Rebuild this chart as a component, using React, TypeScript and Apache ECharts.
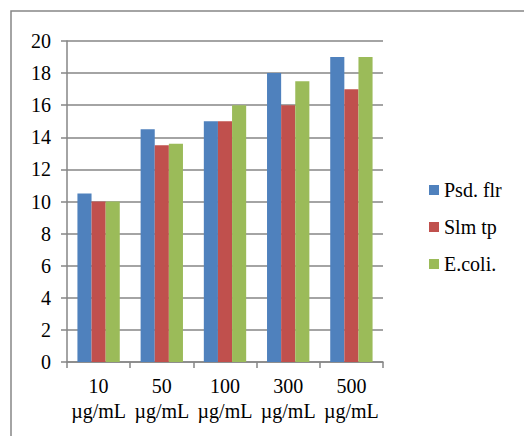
import React, { useEffect, useRef } from "react";
import * as echarts from "echarts";

const categories = ["10\nµg/mL", "50\nµg/mL", "100\nµg/mL", "300\nµg/mL", "500\nµg/mL"];
const seriesNames = ["Psd. flr", "Slm tp", "E.coli."];
const psdFlr = [10.5, 14.5, 15, 18, 19];
const slmTp = [10, 13.5, 15, 16, 17];
const eColi = [10, 13.6, 16, 17.5, 19];
const colors = ["#4F81BD", "#C0504D", "#9BBB59"];

const FONT = "Liberation Serif, Times New Roman, serif";
const FS = 20;

export default function App() {
  const ref = useRef<HTMLDivElement>(null);
  useEffect(() => {
    if (!ref.current) return;
    const chart = echarts.init(ref.current, null, { renderer: "svg" });
    const values = [psdFlr, slmTp, eColi];
    chart.setOption({
      animation: false,
      backgroundColor: "#ffffff",
      textStyle: { fontFamily: FONT, color: "#000" },
      graphic: [
        {
          type: "rect",
          shape: { x: 11, y: 11, width: 700, height: 700 },
          style: { fill: "none", stroke: "#868686", lineWidth: 1.5 },
          silent: true,
        },
      ],
      grid: { left: 67, top: 41, right: 141, bottom: 74 },
      legend: {
        orient: "vertical",
        left: 424,
        top: 175,
        itemWidth: 10,
        itemHeight: 10,
        itemGap: 17,
        icon: "rect",
        textStyle: { fontFamily: FONT, fontSize: FS, color: "#000", padding: [0, 0, 0, 0] },
        data: seriesNames,
      },
      xAxis: {
        type: "category",
        data: categories,
        axisLine: { lineStyle: { color: "#868686", width: 1.5 } },
        axisTick: { show: true, length: 6, alignWithLabel: false, lineStyle: { color: "#868686", width: 1.5 } },
        axisLabel: { fontFamily: FONT, fontSize: FS, color: "#000", lineHeight: 25, margin: 11, interval: 0 },
      },
      yAxis: {
        type: "value",
        min: 0,
        max: 20,
        interval: 2,
        axisLine: { show: true, lineStyle: { color: "#868686", width: 1.5 } },
        axisTick: { show: true, length: 6, lineStyle: { color: "#868686", width: 1.5 } },
        splitLine: { lineStyle: { color: "#868686", width: 1.5 } },
        axisLabel: { fontFamily: FONT, fontSize: FS, color: "#000", margin: 16 },
      },
      series: seriesNames.map((name, i) => ({
        name,
        type: "bar",
        data: values[i],
        barGap: "0%",
        barCategoryGap: "33%",
        itemStyle: { color: colors[i] },
      })),
    });
    return () => chart.dispose();
  }, []);
  return (
    <div
      ref={ref}
      style={{ position: "fixed", left: 0, top: 0, width: 524, height: 436 }}
    />
  );
}
